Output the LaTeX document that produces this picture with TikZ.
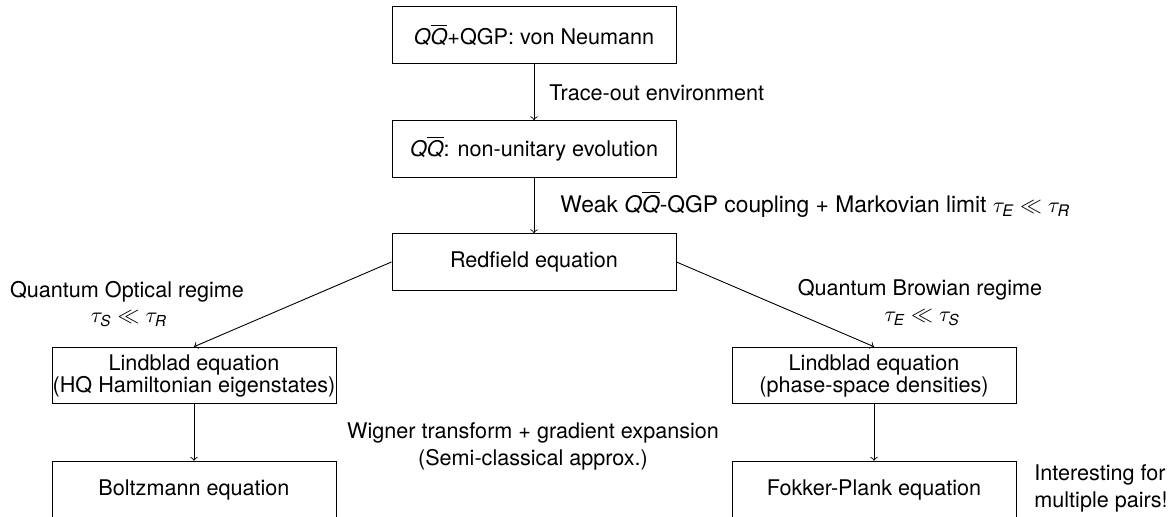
\documentclass[tikz,border=0pt]{standalone}
\usepackage{amsmath}
\usepackage{fontspec}
\setmainfont{TeX Gyre Heros}
\newcommand{\QQbar}{\textit{Q}\overline{\textit{Q}}}
\begin{document}
\begin{tikzpicture}[x=0.5pt,y=-0.5pt,
  every node/.style={font=\fontsize{10.8}{13.5}\selectfont, inner sep=0pt},
  box/.style={draw, line width=0.5pt, minimum width=142pt, minimum height=28.3pt, align=center},
  twoline/.style={box, font=\fontsize{10.8}{11}\selectfont},
  note/.style={align=center},
  link/.style={->, line width=0.45pt}]
  \useasboundingbox (0,0) rectangle (1172,517);

  % main chain
  \node[box] (vn)   at (534,35)  {$\QQbar$+QGP: von Neumann};
  \node[box] (nue)  at (534,149) {$\QQbar$: non-unitary evolution};
  \node[box] (red)  at (534,262) {Redfield equation};

  % optical branch
  \node[twoline] (lindL) at (194,375.5) {Lindblad equation\\(HQ Hamiltonian eigenstates)};
  \node[box] (boltz) at (194,489.5) {Boltzmann equation};

  % Brownian branch
  \node[twoline] (lindR) at (874,375.5) {Lindblad equation\\(phase-space densities)};
  \node[box] (fp) at (874,489.5) {Fokker-Plank equation};

  % connectors
  \draw[link] (vn) -- (nue);
  \draw[link] (nue) -- (red);
  \draw[link] (red.west) -- (lindL.north);
  \draw[link] (red.east) -- (lindR.north);
  \draw[link] (lindL) -- (boltz);
  \draw[link] (lindR) -- (fp);

  % labels
  \node[anchor=west] (lbltrace) at (549,93) {Trace-out environment};
  \node[anchor=west, font=\fontsize{11.4}{13.5}\selectfont] (lblweak) at (560,204)
    {Weak $\QQbar$-QGP coupling + Markovian limit $\tau_{\textit{E}} \ll \tau_{\textit{R}}$};
  \node[note] (lblopt) at (127,292) {Quantum Optical regime};
  \node[note] (lbloptc) at (129,319) {$\tau_{\textit{S}} \ll \tau_{\textit{R}}$};
  \node[note] (lblbrown) at (920,290) {Quantum Browian regime};
  \node[note] (lblbrownc) at (922,318) {$\tau_{\textit{E}} \ll \tau_{\textit{S}}$};
  \node[note] (lblwigner) at (533,446) {Wigner transform + gradient expansion\\(Semi-classical approx.)};
  \node[anchor=west, align=left] (lblmulti) at (1034,488) {Interesting for\\multiple pairs!};
\end{tikzpicture}
\end{document}
